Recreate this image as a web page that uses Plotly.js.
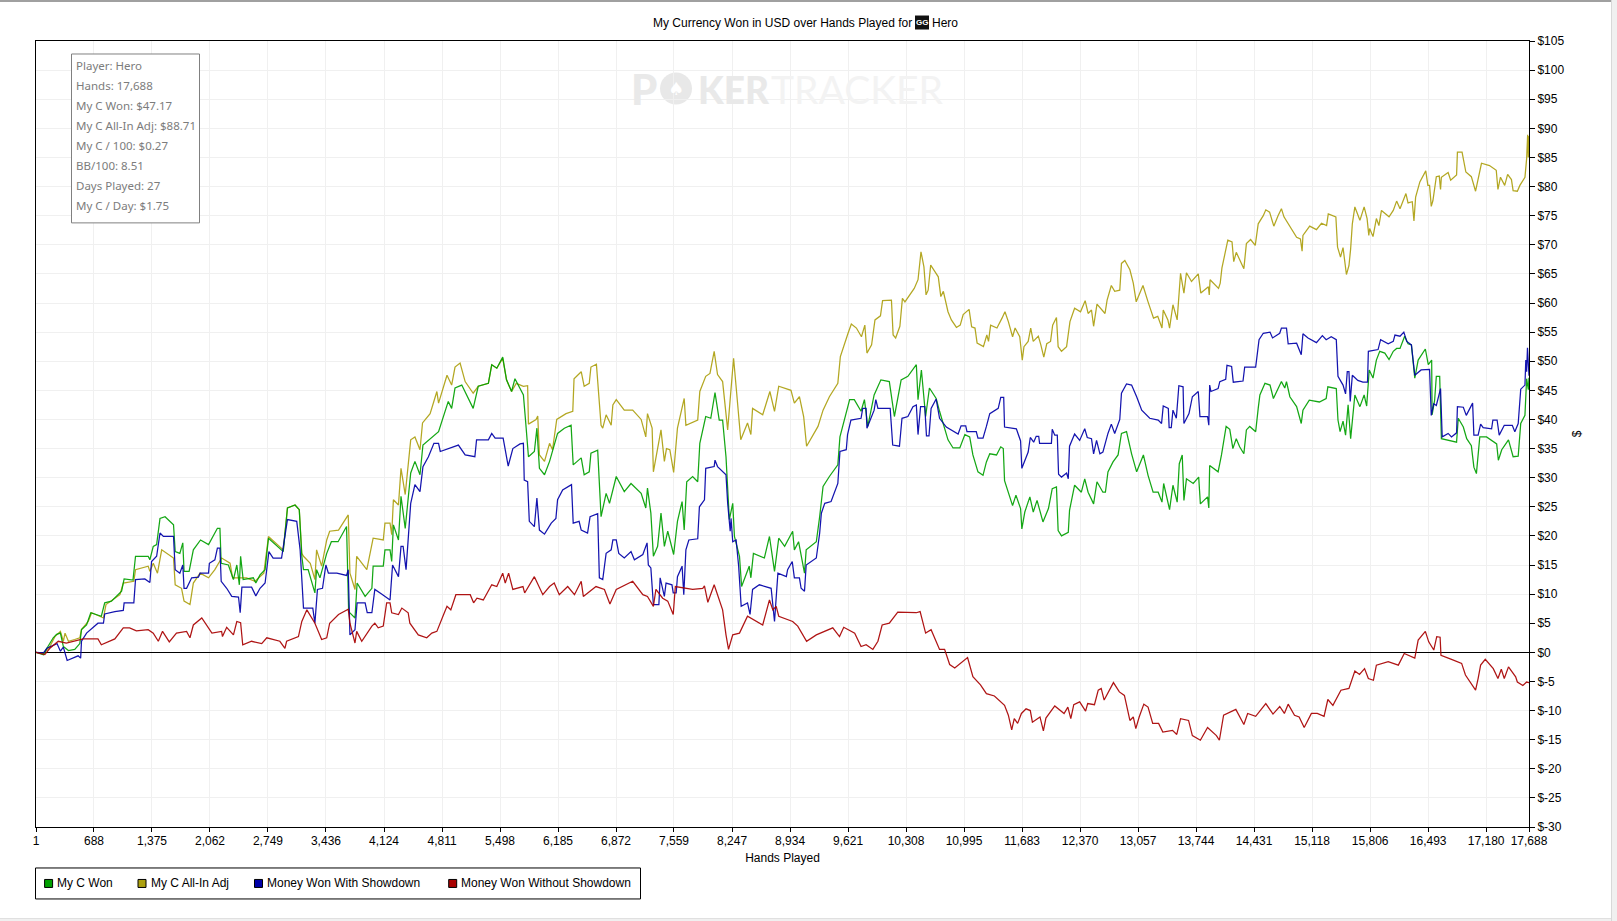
<!DOCTYPE html>
<html>
<head>
<meta charset="utf-8">
<script src="https://cdn.plot.ly/plotly-3.0.1.min.js"></script>
<style>
html,body{margin:0;padding:0;background:#fff;overflow:hidden}
#chart{position:absolute;left:0;top:0;width:1617px;height:921px}
.strip{position:absolute;z-index:5}
</style>
</head>
<body>
<div id="chart"></div>
<div class="strip" style="left:0;top:0;width:1611px;height:1.5px;background:#a0a0a0"></div>
<div class="strip" style="left:1611px;top:0;width:6px;height:921px;background:#f0f0f0;border-left:1px solid #d8d8d8"></div>
<div class="strip" style="left:0;top:918px;width:1611px;height:3px;background:#f0f0f0;border-top:1px solid #e0e0e0"></div>
<script>
const chartTitle = "My Currency Won in USD over Hands Played for";
const titleTail = "Hero";
const xTitle = "Hands Played";
const yTitle = "$";
const handTicks = [1,688,1375,2062,2749,3436,4124,4811,5498,6185,6872,7559,8247,8934,9621,10308,10995,11683,12370,13057,13744,14431,15118,15806,16493,17180,17688];
const dollarTicks = [105,100,95,90,85,80,75,70,65,60,55,50,45,40,35,30,25,20,15,10,5,0,-5,-10,-15,-20,-25,-30];
const statsLines = ["Player: Hero","Hands: 17,688","My C Won: $47.17","My C All-In Adj: $88.71","My C / 100: $0.27","BB/100: 8.51","Days Played: 27","My C / Day: $1.75"];
const seriesNames = ["My C Won","My C All-In Adj","Money Won With Showdown","Money Won Without Showdown"];
const seriesColors = ["#00a000","#aca00f","#0000a8","#a80000"];

const allInAdj = [[1,0],[90,-0.2],[165,1],[225,2.7],[290,3.6],[325,1.9],[345,3.3],[385,1.9],[460,2.2],[520,2.5],[540,3.9],[620,5.3],[660,6.8],[800,5.9],[830,8.2],[995,9.9],[1035,11.9],[1160,12.2],[1180,14.2],[1330,14.8],[1350,13.9],[1390,15.3],[1440,13.6],[1490,17.6],[1630,16.2],[1650,11.6],[1725,11],[1755,8.8],[1825,8.2],[1865,11.9],[1945,13.6],[2045,12.8],[2120,14.2],[2200,16.2],[2300,15.3],[2330,12.8],[2495,12.8],[2595,12.2],[2700,13.6],[2755,19.9],[2930,17.6],[2980,24.8],[3070,25.3],[3120,24.5],[3150,17],[3170,16.5],[3250,15.3],[3305,12.5],[3325,17.6],[3385,14.8],[3445,19.3],[3480,20.8],[3585,21],[3660,22.8],[3700,23.6],[3720,13.6],[3780,10.8],[3800,16.5],[3920,14.2],[3995,19.6],[4115,19.3],[4135,22.2],[4195,22.2],[4215,20.2],[4235,26.2],[4295,25.3],[4325,31.6],[4375,27.1],[4410,31.9],[4440,36.5],[4490,37],[4550,34.8],[4580,39.4],[4670,41],[4750,44.8],[4770,42.8],[4870,47.6],[4925,45.9],[4965,49],[5025,49.7],[5085,46.5],[5180,44.5],[5240,45.7],[5360,46.2],[5400,49.4],[5460,48.8],[5530,50.5],[5575,46.8],[5635,44.8],[5690,46.2],[5775,45.7],[5825,45.8],[5835,39.2],[5925,40],[5945,40.6],[5965,33.9],[6025,32.8],[6085,35.9],[6120,34.8],[6170,40],[6280,41],[6360,41.4],[6375,47],[6460,48.2],[6495,45.7],[6555,46.2],[6575,49],[6640,49.5],[6695,39],[6715,38.5],[6755,40.8],[6815,39],[6835,42.5],[6875,43.4],[6970,41.6],[7070,41.6],[7170,40],[7225,37],[7245,41],[7300,38.5],[7315,31],[7405,38.2],[7445,32.8],[7470,35],[7510,34.8],[7555,30.9],[7600,38.5],[7680,43.6],[7700,39],[7840,39.9],[7865,44.8],[7935,47.4],[7985,47.9],[8035,51.7],[8075,47.7],[8135,46.5],[8195,38.2],[8265,50.5],[8300,44.8],[8350,36.5],[8430,39.4],[8470,37.4],[8490,41.9],[8610,40.8],[8695,44.8],[8750,41.4],[8800,45.7],[8945,45],[8985,42.8],[9045,43.9],[9095,40.5],[9130,35.4],[9265,38.8],[9325,41.6],[9400,43.9],[9500,46.2],[9530,50.8],[9565,52.5],[9621,54.8],[9660,56.4],[9720,55.7],[9780,54.2],[9820,56.2],[9845,51.4],[9900,52.8],[9940,57.1],[10005,57.8],[10030,60.4],[10135,60.5],[10155,54.5],[10185,54],[10235,56],[10265,60.8],[10295,60.2],[10405,62.5],[10450,64],[10485,68.8],[10520,66.2],[10545,61.4],[10570,62.2],[10600,66.5],[10650,65.4],[10690,64.5],[10720,61.1],[10750,62],[10805,58.5],[10845,57.1],[10905,55.8],[10950,56.2],[10985,58],[11055,58.9],[11085,55.9],[11125,55.7],[11150,53.1],[11225,52.5],[11265,54.5],[11285,53.4],[11310,56.2],[11385,55.7],[11445,57.4],[11480,58.5],[11520,56.8],[11570,54.2],[11600,55.7],[11655,54.2],[11685,50.2],[11705,52.5],[11755,53.4],[11785,55.7],[11815,53.4],[11875,54.3],[11905,52.8],[11940,50.7],[11975,53],[12020,53.4],[12045,56.2],[12090,57.5],[12110,52.5],[12150,51.7],[12210,52.5],[12250,56.8],[12305,59.1],[12375,58.5],[12430,60.4],[12465,58.2],[12505,58.8],[12530,56],[12570,59.8],[12665,58.2],[12690,60.5],[12740,63],[12780,62],[12840,62.2],[12860,66.8],[12900,67.3],[12960,65.7],[13000,63.4],[13035,60.2],[13115,63],[13175,60.2],[13240,57.4],[13290,57.7],[13340,55.7],[13355,58.8],[13410,57.1],[13430,55.7],[13470,59.7],[13520,57.1],[13560,65.1],[13600,61.7],[13630,65.2],[13690,63.7],[13770,65],[13800,61.7],[13890,62.8],[13900,61.4],[13910,64],[14010,62.5],[14030,63.4],[14050,66],[14120,70.8],[14170,70.5],[14190,67.1],[14220,68.7],[14280,67],[14310,65.9],[14340,70.2],[14390,70.9],[14445,69.9],[14480,73.6],[14540,75],[14570,76],[14615,75.6],[14665,73.2],[14715,75],[14755,76.2],[14785,74.8],[14835,73.6],[14935,71.3],[14980,71],[15000,68.9],[15010,71.6],[15090,73.2],[15170,72.6],[15230,73.7],[15290,73.3],[15310,75.3],[15400,74.8],[15420,69.6],[15455,67.9],[15485,69.5],[15525,64.9],[15555,66.4],[15575,69.3],[15595,73.6],[15625,76.5],[15685,74.2],[15735,76.5],[15770,74.5],[15790,71.6],[15800,72.8],[15840,71.4],[15880,74.5],[15910,73.3],[15940,75.9],[16030,74.8],[16080,75.9],[16120,77.5],[16160,76.2],[16230,78.8],[16255,77.2],[16305,77.4],[16325,74.1],[16345,78.2],[16395,80.8],[16465,82.7],[16490,80.2],[16510,80.2],[16530,76.6],[16550,77.6],[16590,81.7],[16625,81.8],[16640,79.5],[16650,81.6],[16730,82.4],[16760,81.1],[16830,82],[16840,85.9],[16895,85.9],[16940,82.5],[17005,81.7],[17055,79.2],[17085,81.1],[17125,84],[17220,83.6],[17300,82.8],[17320,79.5],[17350,81.6],[17400,80.2],[17435,82.1],[17480,81.2],[17500,79.3],[17550,79.2],[17580,80.2],[17640,81.6],[17660,84.8],[17672,88.9],[17680,85],[17688,88.7]];

const cWon = [[1,0],[90,-0.4],[130,0.7],[205,2.5],[245,3.1],[290,3.3],[325,1],[385,0.3],[460,0.5],[520,1.5],[540,3.9],[600,4.7],[650,6.8],[775,6.2],[815,8.5],[895,8.8],[1015,10.5],[1045,12.6],[1150,12.4],[1180,16.5],[1330,16.5],[1350,15.9],[1390,18.2],[1430,18.5],[1470,23],[1530,23.3],[1630,21.9],[1650,17.3],[1705,17],[1740,18.8],[1755,13.9],[1815,13.9],[1865,17.6],[1950,19.3],[2045,18.5],[2150,21.3],[2180,21.3],[2195,15.3],[2280,15],[2340,12.5],[2380,15],[2410,11.6],[2425,16.5],[2455,12.5],[2575,12.8],[2605,11.9],[2655,13.3],[2715,14.2],[2755,19.6],[2930,17.3],[2980,24.8],[3070,25.3],[3120,24.5],[3150,16.5],[3170,14.2],[3225,14.2],[3305,10.2],[3325,14.2],[3365,12.8],[3445,17],[3500,19],[3580,19],[3680,21.6],[3705,7],[3780,5.9],[3805,11.9],[3900,9.6],[3980,11],[3995,14.8],[4115,14.8],[4135,17.6],[4195,17.6],[4215,15.6],[4235,21.9],[4295,19.3],[4325,26.8],[4375,21.3],[4410,26.8],[4440,30.8],[4490,32.8],[4550,30.5],[4585,35.6],[4690,37],[4770,37.9],[4885,43.1],[4925,41.9],[4965,45.4],[5045,45.9],[5180,41.9],[5240,45.7],[5360,46.2],[5400,49.4],[5460,48.8],[5530,50.7],[5575,46.8],[5635,44.8],[5675,47],[5775,44.2],[5800,39.9],[5835,33.6],[5905,34.5],[5935,38.5],[5965,31.6],[6025,30.5],[6085,32.8],[6140,35.4],[6180,37.6],[6260,38.5],[6340,39],[6365,32.2],[6460,33.4],[6495,30.5],[6555,31],[6575,34.2],[6655,34.7],[6695,23.3],[6755,27.3],[6795,25.6],[6875,30.2],[6970,27.6],[7050,29],[7170,27.3],[7225,24.8],[7245,28.2],[7285,23.9],[7315,16.5],[7365,18.2],[7405,23.9],[7445,18.2],[7485,20.8],[7555,16.8],[7600,22.5],[7655,25.9],[7680,21],[7710,29.3],[7780,30.2],[7840,29.3],[7865,35.9],[7935,40.5],[7995,40.2],[8045,44.6],[8095,39.9],[8135,39.9],[8175,33.6],[8215,22.8],[8255,25.6],[8275,19.9],[8335,16.5],[8360,11.3],[8450,14.8],[8470,12.8],[8500,17],[8630,16.2],[8690,19.9],[8750,13.9],[8800,19.6],[8870,18.2],[8965,20.8],[8985,17.6],[9035,19],[9105,13.6],[9125,17.6],[9245,19],[9285,23.3],[9325,28.5],[9400,30.2],[9500,32.2],[9525,37],[9640,43.4],[9695,43.4],[9775,41.4],[9815,43.4],[9855,38.8],[9930,44.2],[10010,46.8],[10110,46.5],[10170,40.5],[10250,46.8],[10330,47.4],[10430,49.4],[10450,43.4],[10490,48.5],[10540,40.5],[10585,45.4],[10665,43.6],[10705,41.4],[10805,36.5],[10865,35.1],[10945,35.1],[11005,37.4],[11062,37],[11100,33.9],[11160,31],[11220,30.4],[11260,32.7],[11300,34.1],[11380,33.9],[11430,35.3],[11460,35],[11475,29.5],[11515,27.5],[11570,25.2],[11610,27],[11665,24.7],[11680,21.2],[11715,24.1],[11775,26.7],[11815,24.1],[11860,26.1],[11930,22.4],[11995,24.7],[12040,28.1],[12090,28.4],[12110,20.9],[12150,20],[12230,20.6],[12245,24.4],[12305,28.7],[12385,27.5],[12425,29.8],[12465,27.5],[12530,25.5],[12570,29.3],[12640,27.5],[12670,27.5],[12700,31],[12760,32.7],[12820,33.9],[12860,37.6],[12920,37.9],[12980,34.1],[13040,31],[13120,33.9],[13175,30.4],[13235,27.5],[13295,27.5],[13340,25.8],[13360,29],[13430,24.5],[13470,28.7],[13520,25.8],[13545,32.4],[13580,33.9],[13600,26.1],[13630,29.8],[13710,29],[13775,30.1],[13795,25.5],[13880,26.7],[13895,24.8],[13905,32.1],[14005,31],[14045,33.9],[14100,38.8],[14143,38.3],[14180,35],[14220,36.7],[14260,35.3],[14310,34.1],[14340,38.2],[14380,38.8],[14450,37.9],[14480,41.9],[14500,44.2],[14560,46.2],[14620,45.9],[14660,43.6],[14755,46.5],[14795,45.4],[14815,46.5],[14855,43.9],[14935,42.2],[14990,39.3],[15010,41.6],[15085,43.3],[15205,43],[15285,43.6],[15305,45.6],[15405,45.3],[15425,39.9],[15450,37.9],[15485,39.7],[15515,37.3],[15545,42.5],[15575,36.7],[15625,44.2],[15685,42.2],[15735,44.2],[15765,42.3],[15785,47.1],[15795,48.5],[15840,47.1],[15880,50.2],[15920,51.7],[15980,51.4],[16030,50.3],[16080,51.7],[16120,52.2],[16160,52.2],[16215,54.3],[16255,53],[16295,52.8],[16335,47.1],[16375,50.2],[16460,52.1],[16495,49.4],[16535,50.2],[16540,40.8],[16570,43.3],[16590,47.4],[16630,47.4],[16650,36.7],[16750,36.4],[16830,36.1],[16850,40.2],[16910,38.7],[16950,36.7],[17005,35.5],[17035,31.8],[17065,30.7],[17105,37],[17185,37],[17305,35.8],[17325,33],[17365,34.8],[17445,36.5],[17500,33.6],[17560,33.7],[17590,39.3],[17640,40.7],[17660,47],[17680,45.1],[17688,47.17]];

const withShowdown = [[1,0],[90,-0.1],[130,0.7],[250,1.5],[290,0.2],[325,0.9],[370,-1.4],[500,-0.6],[530,-1],[540,1.9],[600,3.3],[735,5],[800,5],[815,6.6],[935,7],[1035,7.2],[1045,8.5],[1160,8.5],[1180,12.5],[1290,12.6],[1350,12],[1370,15.6],[1430,16.5],[1470,20.5],[1510,19.9],[1630,19.9],[1650,14.2],[1705,13.6],[1740,15],[1755,11],[1785,11],[1845,12.8],[1925,12.9],[1945,13.6],[2045,13.6],[2055,15.3],[2120,15.9],[2150,17.9],[2180,17.9],[2195,12.2],[2260,11],[2320,9.6],[2400,9.5],[2420,6.8],[2440,11.2],[2555,11.2],[2605,9.7],[2655,11],[2715,11.9],[2760,17.3],[2810,16.2],[2910,16.2],[2980,22.8],[3090,22.5],[3130,17.6],[3170,7.6],[3280,7.6],[3305,5],[3335,10.8],[3395,11],[3435,15],[3465,13.6],[3565,13.6],[3680,13.2],[3700,14.2],[3720,3],[3780,3.9],[3805,8.5],[3900,8.5],[3925,6.8],[3980,6.8],[4015,10.8],[4095,10],[4195,9],[4225,15],[4295,13],[4325,18.2],[4350,18.2],[4385,14.2],[4410,19.9],[4440,25.6],[4490,28.8],[4550,27.6],[4585,31.9],[4650,33.6],[4715,35.9],[4770,35.9],[4790,34.5],[4885,35],[5005,35.6],[5085,33.9],[5200,33.6],[5220,36.5],[5360,36.5],[5400,37.6],[5440,36.8],[5535,36.8],[5595,32],[5650,35],[5735,35.8],[5775,35.9],[5785,29.6],[5825,29.3],[5845,22.5],[5905,21.6],[5935,26.5],[5965,21],[6025,20.3],[6105,22.2],[6160,23],[6180,26.2],[6240,27.9],[6345,28.8],[6365,22.2],[6435,22.5],[6460,21],[6535,20.5],[6565,23.3],[6655,23.8],[6675,12.8],[6715,12.5],[6755,17],[6815,17.6],[6835,19.3],[6875,19.3],[6905,17],[6970,16.2],[7050,17.3],[7090,15.9],[7190,16.8],[7240,18.8],[7255,15],[7285,14.5],[7315,8.2],[7380,8.2],[7395,12.8],[7445,9.6],[7465,11.9],[7535,11.6],[7550,10.2],[7585,10.2],[7600,13],[7655,14.8],[7675,9.9],[7700,17.6],[7735,19.3],[7840,19.5],[7860,25],[7920,26.2],[7935,31.6],[8035,31.9],[8045,33],[8075,31.9],[8175,30.5],[8195,25.6],[8225,20.8],[8235,23],[8255,19],[8295,19.3],[8325,14.8],[8355,7.9],[8430,8.5],[8460,6.5],[8490,10.8],[8570,11.6],[8710,11],[8750,5.3],[8790,13.6],[8890,13],[8905,14.2],[8960,15.6],[8985,12.8],[9045,12.8],[9065,11],[9105,10.5],[9125,15],[9245,16.2],[9285,20.5],[9305,23.9],[9345,25.6],[9420,25.9],[9500,29],[9525,34.5],[9600,34.8],[9615,37.4],[9655,39.9],[9775,40.2],[9795,41.9],[9835,41.9],[9845,38.5],[9930,41.6],[9950,43.4],[9975,41.9],[10120,41.9],[10150,35.6],[10230,35.4],[10260,40.2],[10330,40.5],[10390,42.2],[10430,42.5],[10450,37.4],[10480,42.2],[10530,42.2],[10550,37.2],[10580,37.2],[10605,41.9],[10665,43.5],[10705,40.2],[10785,38.7],[10925,37.5],[10960,38.9],[11015,38.9],[11030,37.9],[11140,37.9],[11160,36.8],[11220,36.8],[11260,38.8],[11300,41],[11400,41.9],[11430,43.8],[11465,43.8],[11475,38.7],[11615,38.4],[11665,36.3],[11680,31.6],[11755,34.4],[11780,36.9],[11820,36.1],[11850,37.1],[11880,37.1],[11890,35.9],[12030,35.9],[12040,38.3],[12070,37.3],[12100,37.3],[12115,30.6],[12150,30.1],[12210,30.8],[12230,29.8],[12245,35.4],[12305,37.5],[12365,36.4],[12425,38.4],[12455,36.9],[12505,36.7],[12530,34.1],[12565,36.4],[12605,34.1],[12640,34.4],[12700,37.6],[12740,39.2],[12780,37.6],[12840,40],[12860,44.5],[12920,46.1],[12980,45.9],[13040,43.9],[13100,41.6],[13195,40.2],[13295,39.9],[13335,39.3],[13355,42.3],[13415,41.9],[13425,38.6],[13450,38.6],[13470,41.6],[13510,40.2],[13540,45.8],[13590,45.6],[13600,39.3],[13660,41],[13700,43.9],[13770,44.8],[13790,40.5],[13880,40.5],[13895,39],[13905,45.9],[13920,44.8],[14005,45.3],[14025,46.5],[14095,46.9],[14110,49.3],[14165,49.1],[14185,46.4],[14300,46.6],[14320,49],[14450,49],[14490,53.7],[14540,54.8],[14620,55],[14650,54],[14735,54.8],[14755,55.7],[14815,55.7],[14835,53],[14935,53.1],[14990,51.1],[15010,54.7],[15070,54],[15170,53.2],[15240,54.4],[15285,53.7],[15345,54.2],[15405,53.7],[15425,47.4],[15485,45.9],[15515,44.4],[15535,48.2],[15555,48.2],[15570,43.1],[15595,47.6],[15660,46.7],[15720,46.4],[15775,46.4],[15785,51.7],[15900,52],[15930,53.7],[16020,53],[16080,53.4],[16100,54.5],[16160,54.3],[16205,55],[16240,53.4],[16295,52.8],[16335,47.6],[16410,48.5],[16510,48.6],[16530,40.7],[16560,42.7],[16590,42.4],[16640,45.3],[16660,37],[16730,37.6],[16770,37],[16830,37.7],[16840,42.2],[16910,42.1],[16945,40.7],[17020,42.8],[17035,37.3],[17085,37.3],[17115,39.2],[17145,38.6],[17245,38.4],[17260,39.9],[17310,39.9],[17335,37.3],[17395,39],[17490,39],[17520,37.9],[17560,39.3],[17590,45.2],[17640,45.9],[17650,50.2],[17660,48.2],[17670,52.3],[17688,47.5]];

const withoutShowdown = [[1,0],[105,-0.4],[165,0.7],[265,1.9],[360,1.6],[440,1.9],[560,2.3],[735,2.3],[775,1.3],[935,2.3],[1035,4.2],[1110,4.2],[1190,3.7],[1330,3.9],[1390,3.3],[1450,1.9],[1500,3.6],[1580,1.8],[1665,3.3],[1785,3.6],[1825,2.5],[1865,4.7],[1965,5.9],[2085,3.3],[2200,3.6],[2210,2.7],[2260,4.3],[2340,3],[2380,5.3],[2425,5.1],[2450,1.3],[2555,1.9],[2675,1.5],[2735,2.5],[2890,1.9],[2950,0.7],[2970,1.9],[3110,2.7],[3150,5.3],[3210,7.3],[3305,5],[3385,2.2],[3445,2.5],[3480,5],[3585,6.5],[3700,7.4],[3720,5],[3780,1.6],[3800,3.6],[3860,1.9],[3980,4.5],[4015,5],[4055,4.2],[4115,4.5],[4155,8.5],[4195,8.5],[4215,6.8],[4295,6.5],[4335,7.6],[4410,6.8],[4430,5],[4530,3],[4630,2.5],[4690,3.3],[4750,3.6],[4830,6.5],[4870,7.9],[4915,7.3],[4975,9.9],[5145,9.9],[5185,8.5],[5225,9.3],[5300,9],[5400,11.6],[5460,11.3],[5530,13.6],[5560,11.9],[5600,13.6],[5650,10.8],[5770,11.3],[5790,10.2],[5905,13],[6005,9.9],[6085,11.3],[6140,11.9],[6200,9.9],[6300,11.3],[6380,9.9],[6460,12.2],[6485,9.6],[6635,11.3],[6735,10.8],[6800,8.3],[6875,10.8],[7070,12.2],[7190,9.9],[7245,9.6],[7315,7.9],[7345,10.8],[7425,9.3],[7485,8.8],[7550,6.5],[7575,11.3],[7780,10.8],[7900,11],[7920,11.4],[7960,8.6],[8035,11.6],[8135,7.3],[8175,3],[8205,0.5],[8255,3],[8335,3.3],[8430,6.2],[8530,5.3],[8610,4.7],[8690,9],[8730,7.3],[8770,7.9],[8800,6.2],[8965,5.3],[9025,4.5],[9130,1.9],[9245,3],[9440,4.2],[9520,2.7],[9570,4.3],[9700,3.3],[9775,1],[9835,1.3],[9915,0.5],[9975,1.9],[10025,4.7],[10110,5],[10210,6.9],[10430,6.8],[10475,7],[10540,3.3],[10605,3.9],[10705,0.5],[10765,0.5],[10825,-2.1],[10885,-2.7],[11037,-0.9],[11100,-4.2],[11190,-5.6],[11260,-7.1],[11355,-7.5],[11475,-9.1],[11520,-10.8],[11560,-13.3],[11590,-11.4],[11630,-12.2],[11675,-10.5],[11730,-9.7],[11780,-10],[11805,-12],[11895,-11.1],[11935,-13.5],[11965,-11.3],[12070,-9.2],[12180,-10.5],[12225,-9.4],[12260,-11.4],[12295,-9],[12365,-8.5],[12435,-10.1],[12460,-8.8],[12540,-9],[12585,-6.5],[12620,-6.2],[12655,-8.2],[12765,-5.2],[12835,-6.8],[12895,-7.4],[12960,-11.7],[13000,-11.1],[13030,-13.1],[13070,-11.1],[13125,-8.9],[13175,-9.4],[13230,-12.2],[13300,-12.2],[13350,-13.7],[13465,-13.4],[13515,-14.1],[13560,-11.4],[13655,-11.7],[13700,-14.3],[13795,-15.1],[13880,-12.9],[13985,-14.3],[14020,-15.1],[14070,-10.8],[14215,-9.8],[14310,-12.4],[14355,-10.5],[14450,-11],[14570,-8.8],[14655,-10.6],[14735,-9.3],[14790,-10.5],[14835,-8.9],[14910,-10.8],[14965,-11.1],[15025,-12.9],[15110,-10.5],[15180,-10.5],[15260,-11],[15305,-8.1],[15365,-9.1],[15460,-6.5],[15555,-6.2],[15625,-3.2],[15680,-3.8],[15740,-2.8],[15785,-4.5],[15845,-4.8],[15880,-2.2],[16020,-1.6],[16140,-2.2],[16210,-0.2],[16335,-1],[16375,2.1],[16460,3.6],[16500,1.8],[16560,0.4],[16595,2.7],[16635,2.6],[16645,-0.5],[16770,-1.2],[16890,-1.9],[16935,-3.9],[17055,-6.5],[17085,-4.5],[17115,-2.2],[17170,-1.2],[17265,-2.8],[17320,-4.5],[17360,-2.9],[17395,-4.5],[17445,-2.5],[17530,-4.2],[17550,-5.1],[17615,-5.7],[17660,-5.1],[17688,-5.2]];

const W = 1617, H = 921;
const plot = {l:36, r:1529, t:40.5, b:827};
const px = x => (x - plot.l) / (plot.r - plot.l);
const py = y => (plot.b - y) / (plot.b - plot.t);
const font = "'Liberation Sans', Arial, sans-serif";

const line = (pts, idx) => ({
  type: 'scatter', mode: 'lines', name: seriesNames[idx],
  x: pts.map(p => p[0]), y: pts.map(p => p[1]),
  line: {color: seriesColors[idx], width: 1.25, shape: 'linear'},
  opacity: 0.92, showlegend: false, hoverinfo: 'x+y+name'
});
const traces = [line(allInAdj,1), line(cWon,0), line(withShowdown,2), line(withoutShowdown,3)];

const shapes = [];
const annotations = [];
const paperNote = (x, y, text, opts) => annotations.push(Object.assign({
  xref:'paper', yref:'paper', x:px(x), y:py(y), text:text, showarrow:false,
  xanchor:'left', yanchor:'middle', font:{family:font,size:12,color:'#000'}
}, opts||{}));
const rect = (x0,y0,x1,y1,fill,lineColor,layer) => shapes.push({
  type:'rect', xref:'paper', yref:'paper', x0:px(x0), x1:px(x1), y0:py(y0), y1:py(y1),
  fillcolor:fill, line:{color:lineColor||fill, width:lineColor?1:0}, layer:layer||'above'
});

// watermark
paperNote(629, 89, "P", {font:{family:"Lato,sans-serif",size:42,color:'#e9e9e9',weight:900}});
shapes.push({type:'circle', xref:'paper', yref:'paper', x0:px(660), x1:px(692), y0:py(72), y1:py(104), fillcolor:'#e8e8e8', line:{width:0}, layer:'below'});
paperNote(676, 88, "\u2660", {xanchor:'center', font:{family:"'DejaVu Sans',sans-serif",size:18,color:'#ffffff'}});
paperNote(696, 89, "KER", {font:{family:"Lato,sans-serif",size:37,color:'#e9e9e9',weight:900}});
paperNote(769, 89, "TRACKER", {font:{family:"Lato,sans-serif",size:39,color:'#f3f3f3'}});

// stats box
rect(71.5,53.5,199.5,222.5,'#ffffff','#808080');
statsLines.forEach((t,i) => paperNote(74, 65 + i*20, t, {font:{family:"'Noto Sans',sans-serif",size:11.5,color:'#7c7c7c'}}));

// title tail and GG logo
rect(915,15,929,29,'#111111');
paperNote(922, 22, "GG", {xanchor:'center', font:{family:font,size:8,color:'#ffffff',weight:700}});
paperNote(930, 22.5, titleTail);

// legend box
rect(35.5,868,640.5,899,'#ffffff','#000000');
const swatchX = [44.6,138,254.5,448.7];
const labelX = [55,148.5,265,459];
seriesNames.forEach((n,i) => {
  rect(swatchX[i],879.5,swatchX[i]+8,887.5,seriesColors[i],'#000000');
  paperNote(labelX[i],883.5,n);
});

const layout = {
  width:W, height:H, autosize:false,
  paper_bgcolor:'#fff', plot_bgcolor:'#fff',
  margin:{l:plot.l, r:W-plot.r, t:plot.t, b:H-plot.b, pad:0, autoexpand:false},
  showlegend:false,
  title:{text:chartTitle, font:{family:font,size:12,color:'#000'}, x:653/W, xanchor:'left', y:1-22.5/H, yanchor:'middle'},
  font:{family:font,size:12,color:'#000'},
  xaxis:{
    range:[1,17688], tickmode:'array', tickvals:handTicks, ticktext:handTicks.map(v=>v.toLocaleString('en-US')),
    showgrid:true, gridcolor:'#f0f0f0', gridwidth:1, zeroline:false,
    showline:true, linecolor:'#000', linewidth:1, mirror:true,
    ticks:'outside', ticklen:4, tickcolor:'#000', tickangle:0, ticklabelstandoff:-1,
    tickfont:{family:font,size:12,color:'#000'},
    title:{text:xTitle, font:{family:font,size:12,color:'#000'}, standoff:6}
  },
  yaxis:{
    range:[-30,105], side:'right', tickmode:'array', tickvals:dollarTicks,
    ticktext:dollarTicks.map(v=> '$'+v),
    showgrid:true, gridcolor:'#f0f0f0', gridwidth:1,
    zeroline:true, zerolinecolor:'#000', zerolinewidth:1,
    showline:true, linecolor:'#000', linewidth:1, mirror:true,
    ticks:'outside', ticklen:5, tickcolor:'#000',
    tickfont:{family:font,size:12,color:'#000'},
    title:{text:yTitle, font:{family:font,size:12,color:'#000'}, standoff:9}
  },
  shapes:shapes, annotations:annotations
};
Plotly.newPlot('chart', traces, layout, {displayModeBar:false, staticPlot:true});
</script>
</body>
</html>
